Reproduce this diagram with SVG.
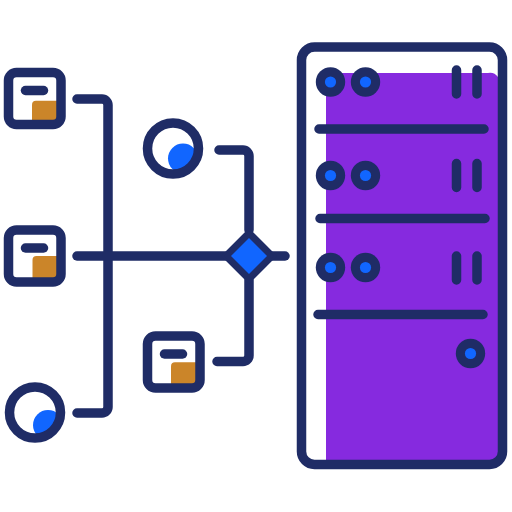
<svg xmlns="http://www.w3.org/2000/svg" width="512" height="512" viewBox="0 0 512 512">
<style>
.s{fill:none;stroke:#1f2c66;stroke-width:9.500;stroke-linecap:round;stroke-linejoin:round}
.o{fill:#cb8529}
.b{fill:#1166ff}
.d{fill:#1f2c66}
</style>
<defs>
<path id="orange" class="o" d="M0 25V4a4 4 0 0 1 4-4H26V25Z"/>
<g id="box">
<rect class="s" x="4.500" y="4.500" width="52.500" height="52" rx="8"/>
<path class="s" d="M21.500 22.500H39.500"/>
</g>
<g id="knob">
<circle class="d" r="14.700"/>
<circle class="b" r="5.600"/>
</g>
<clipPath id="c1"><circle cx="173" cy="148.500" r="25.500"/></clipPath>
<clipPath id="c2"><circle cx="35" cy="412.500" r="25.500"/></clipPath>
</defs>
<g id="connectors">
<path class="s" d="M77 99H102a6 6 0 0 1 6 6V407a6 6 0 0 1-6 6H77"/>
<path class="s" d="M77 256H285"/>
<path class="s" d="M219 150H243a6 6 0 0 1 6 6V230"/>
<path class="s" d="M217 361.500H243a6 6 0 0 0 6-6V280"/>
</g>
<g id="box-1"><use href="#orange" x="32" y="100.700"/><use href="#box" transform="translate(4 68)"/></g>
<g id="box-2"><use href="#orange" x="32.500" y="256"/><use href="#box" transform="translate(4 225.500)"/></g>
<g id="box-3"><use href="#orange" x="171" y="362.300"/><use href="#box" transform="translate(143 331.500)"/></g>
<g id="circle-1">
<circle class="b" cx="183" cy="158.500" r="15" clip-path="url(#c1)"/>
<circle class="s" cx="173" cy="148.500" r="25.500"/>
</g>
<g id="circle-2">
<circle class="b" cx="48" cy="425" r="15" clip-path="url(#c2)"/>
<circle class="s" cx="35" cy="412.500" r="25.500"/>
</g>
<g id="diamond">
<path d="M249 229.500L275.500 256L249 282.500L222.500 256Z" fill="#1f2c66" stroke="#1f2c66" stroke-width="2" stroke-linejoin="round"/>
<path class="b" d="M249 238L267 256L249 274L231 256Z"/>
</g>
<g id="server">
<path d="M326 73H488a10 10 0 0 1 10 4V460H326Z" fill="#862adf"/>
<rect class="s" x="301.500" y="47" width="201" height="417.500" rx="13"/>
<path class="s" d="M319 129H484M320 218.500H485M318 314.500H483"/>
<path class="s" d="M456.500 70V94M477 70V94M456.500 163.500V187.500M477 163.500V187.500M456.500 256V280M477 256V280"/>
<use href="#knob" x="330.500" y="82"/>
<use href="#knob" x="365.500" y="82"/>
<use href="#knob" x="330.500" y="175.500"/>
<use href="#knob" x="365.500" y="175.500"/>
<use href="#knob" x="330.500" y="267.500"/>
<use href="#knob" x="365.500" y="267.500"/>
<use href="#knob" x="470.500" y="353.500"/>
</g>
</svg>
